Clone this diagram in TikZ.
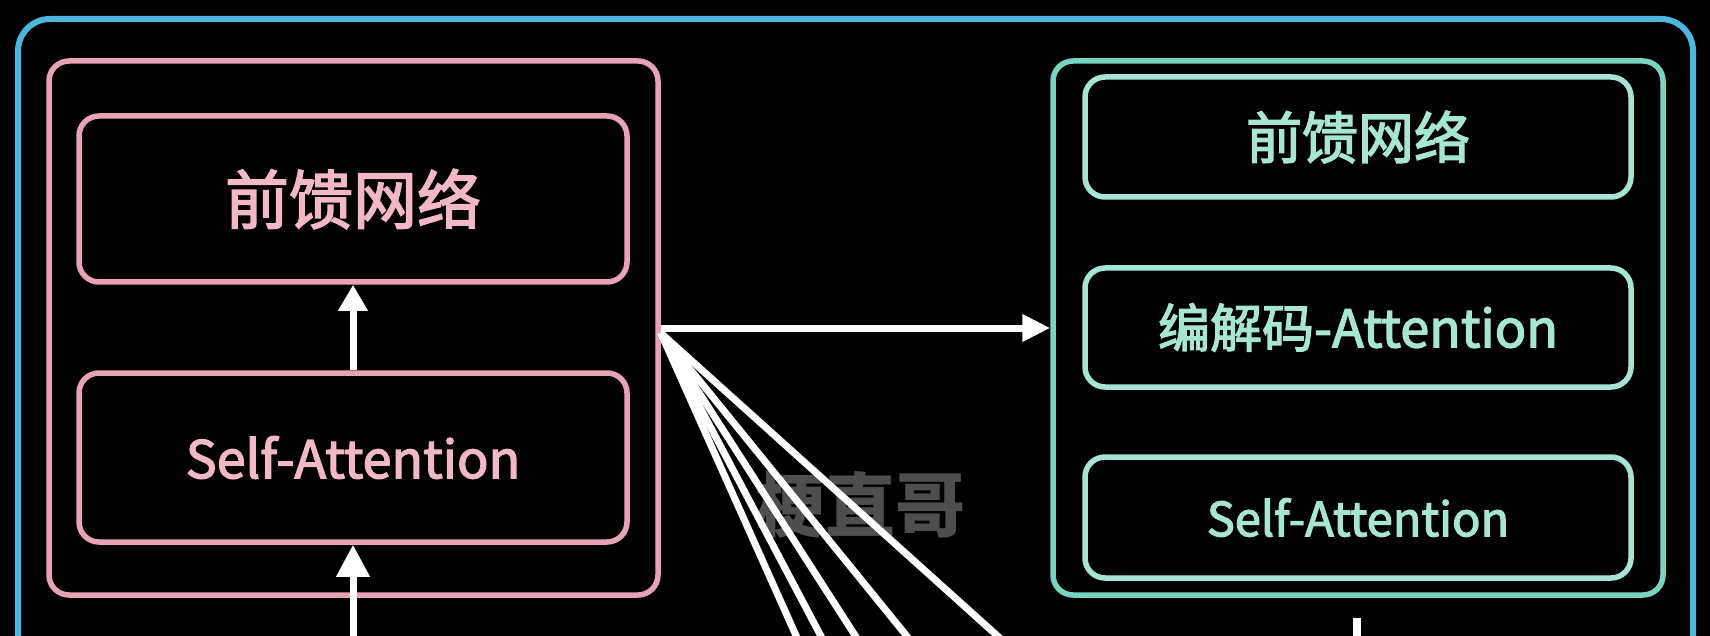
\documentclass[tikz,border=0pt]{standalone}
\usepackage{fontspec}
\setmainfont{Noto Sans CJK SC}
\newfontfamily\lblfam{Noto Sans CJK SC}[FakeBold=2.5]
\usetikzlibrary{arrows.meta}
\definecolor{pinkc}{HTML}{E9A3B6}
\definecolor{pinkt}{HTML}{F2B8C6}
\definecolor{greenc}{HTML}{78D4BE}
\definecolor{greeni}{HTML}{A6E4D4}
\definecolor{greent}{HTML}{A8E6D4}
\definecolor{bluec}{HTML}{4DB6DE}
\definecolor{wmc}{HTML}{4E4E4E}
\newcommand{\lblfont}[1]{\lblfam\fontsize{#1}{#1}\selectfont}
\tikzset{
  box/.style={draw, rounded corners=20pt, line width=5.5pt, inner sep=0pt},
  pinkbox/.style={box, pinkc, text=pinkt},
  greenbox/.style={box, greenc, text=greent},
  greeninner/.style={box, greeni, text=greent},
  wline/.style={draw=white, line width=7pt},
  warrow/.style={wline, -{Triangle[width=28pt,length=26pt]}},
}
\begin{document}
\begin{tikzpicture}[x=1pt,y=-1pt]
\useasboundingbox (0,0) rectangle (1710,636);
\fill[black] (0,0) rectangle (1710,636);
\clip (0,0) rectangle (1710,636);
% outer blue frame
\node[draw=bluec, line width=6pt, rounded corners=32pt, minimum width=1675pt, minimum height=700pt, inner sep=0pt] (frame) at (855.5,369) {};
% watermark
\node[text=wmc, font=\fontsize{70}{70}\bfseries\selectfont] (wm) at (860,505) {梗直哥};
% encoder (pink)
\node[pinkbox, minimum width=609pt, minimum height=534pt] (enc) at (353.5,328) {};
\node[pinkbox, minimum width=548pt, minimum height=166pt, font=\lblfont{64}] (pffn) at (353,199) {前馈网络};
\node[pinkbox, minimum width=548pt, minimum height=169pt, font=\lblfont{52}] (psa) at (353,457.5) {Self-Attention};
% decoder (green)
\node[greenbox, minimum width=610pt, minimum height=534pt] (dec) at (1358,328) {};
\node[greeninner, minimum width=546pt, minimum height=120pt, font=\lblfont{56}] (gffn) at (1358,137) {前馈网络};
\node[greeninner, minimum width=546pt, minimum height=119pt, font=\lblfont{52}] (gcross) at (1358,327.5) {编解码-Attention};
\node[greeninner, minimum width=546pt, minimum height=121pt, font=\lblfont{47}] (gsa) at (1358,517.5) {Self-Attention};
% arrows
\coordinate (pin) at (353,640);
\draw[warrow, -{Triangle[width=32pt,length=32pt]}] (pin) -- (psa.south);
\draw[warrow] (psa.north) -- (pffn.south);
\draw[wline, -{Triangle[width=26pt,length=28pt]}] (enc.east) -- (dec.west);
% fan of lines
\coordinate (f1) at (798,640);
\coordinate (f2) at (823,640);
\coordinate (f3) at (858,640);
\coordinate (f4) at (910,640);
\coordinate (f5) at (1002,640);
\coordinate (fo) at ([yshift=-5pt]enc.east);
\foreach \t in {f1,f2,f3,f4,f5} \draw[wline] (fo) -- (\t);
% short line below decoder
\coordinate (gin) at (1357,640);
\coordinate (gtop) at (1357,618);
\draw[wline, line width=8pt] (gin) -- (gtop);
\end{tikzpicture}
\end{document}
